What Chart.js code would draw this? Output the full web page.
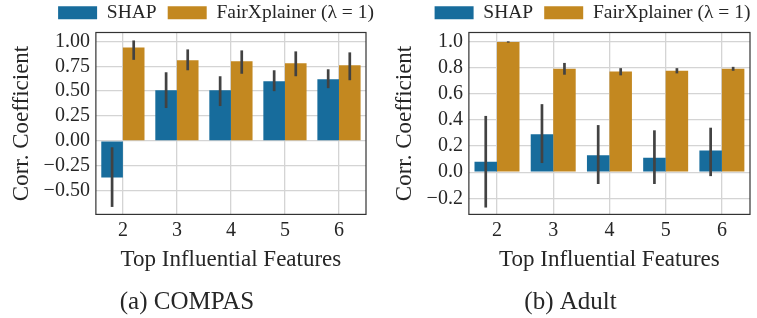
<!DOCTYPE html>
<html>
<head>
<meta charset="utf-8">
<script src="https://cdn.jsdelivr.net/npm/chart.js@4"></script>
<style>
  body { margin: 0; background: #fff; }
  .panel { position: absolute; top: 0; height: 318px; }
  #leftPanel { left: 0; width: 379px; }
  #rightPanel { left: 379px; width: 378px; }
</style>
</head>
<body>
<div class="panel" id="leftPanel"><canvas id="compasChart"></canvas></div>
<div class="panel" id="rightPanel"><canvas id="adultChart"></canvas></div>
<script>
  // Number of top influential features (x categories)
  const categories = ['2', '3', '4', '5', '6'];

  // COMPAS: mean correlation and error bar ends
  const compasShap = [-0.37, 0.51, 0.51, 0.60, 0.62];
  const compasShapLow = [-0.665, 0.33, 0.35, 0.50, 0.53];
  const compasShapHigh = [-0.065, 0.69, 0.65, 0.71, 0.72];
  const compasFair = [0.94, 0.81, 0.80, 0.78, 0.76];
  const compasFairLow = [0.815, 0.71, 0.675, 0.65, 0.61];
  const compasFairHigh = [1.01, 0.92, 0.91, 0.90, 0.89];

  // Adult: mean correlation and error bar ends
  const adultShap = [0.08, 0.29, 0.13, 0.11, 0.165];
  const adultShapLow = [-0.27, 0.07, -0.09, -0.09, -0.03];
  const adultShapHigh = [0.43, 0.52, 0.36, 0.32, 0.34];
  const adultFair = [0.995, 0.79, 0.77, 0.775, 0.79];
  const adultFairLow = [0.99, 0.745, 0.74, 0.755, 0.775];
  const adultFairHigh = [1.0, 0.835, 0.795, 0.795, 0.805];

  // Y tick labels
  const compasTicks = [-0.5, -0.25, 0, 0.25, 0.5, 0.75, 1.0];
  const adultTicks = [-0.2, 0, 0.2, 0.4, 0.6, 0.8, 1.0];

  const shapColor = '#176c9c';
  const fairColor = '#c38820';
  const textColor = '#262626';
  const fontFamily = '"Liberation Serif", "DejaVu Serif", serif';

  // Draw the error bars from each dataset's low/high arrays
  const errorBarPlugin = {
    id: 'errorBars',
    afterDatasetsDraw(chart) {
      const ctx = chart.ctx;
      const yScale = chart.scales.y;
      ctx.save();
      ctx.strokeStyle = '#424242';
      ctx.lineWidth = 2.7;
      chart.data.datasets.forEach((ds, i) => {
        const meta = chart.getDatasetMeta(i);
        meta.data.forEach((bar, j) => {
          ctx.beginPath();
          ctx.moveTo(bar.x, yScale.getPixelForValue(ds.errLow[j]));
          ctx.lineTo(bar.x, yScale.getPixelForValue(ds.errHigh[j]));
          ctx.stroke();
        });
      });
      ctx.restore();
    }
  };

  // Full box around the plot area, like matplotlib spines
  const framePlugin = {
    id: 'frame',
    afterDatasetsDraw(chart) {
      const { left, top, right, bottom } = chart.chartArea;
      const ctx = chart.ctx;
      ctx.save();
      ctx.strokeStyle = '#333333';
      ctx.lineWidth = 1.2;
      ctx.strokeRect(left, top, right - left, bottom - top);
      ctx.restore();
    }
  };

  // Move the legend sideways so it sits where the figure has it
  const legendShiftPlugin = {
    id: 'legendShift',
    afterLayout(chart, args, options) {
      chart.legend.left += options.x || 0;
      chart.legend.right += options.x || 0;
    }
  };

  function minusSign(text) {
    return text.replace('-', '\u2212');
  }

  function createChart(canvasId, cfg) {
    const ctx = document.getElementById(canvasId).getContext('2d');
    return new Chart(ctx, {
      type: 'bar',
      data: {
        labels: categories,
        datasets: [
          {
            label: 'SHAP',
            data: cfg.shap,
            errLow: cfg.shapLow,
            errHigh: cfg.shapHigh,
            backgroundColor: shapColor,
            categoryPercentage: 0.8,
            barPercentage: 1.0
          },
          {
            label: 'FairXplainer (\u03bb = 1)',
            data: cfg.fair,
            errLow: cfg.fairLow,
            errHigh: cfg.fairHigh,
            backgroundColor: fairColor,
            categoryPercentage: 0.8,
            barPercentage: 1.0
          }
        ]
      },
      options: {
        responsive: true,
        maintainAspectRatio: false,
        animation: false,
        layout: { padding: { left: cfg.padLeft, right: cfg.padRight, top: -8, bottom: 0 } },
        plugins: {
          legend: {
            position: 'top',
            align: 'center',
            labels: {
              boxWidth: 39,
              boxHeight: 13,
              padding: 11,
              color: textColor,
              font: { family: fontFamily, size: 19.5 }
            }
          },
          legendShift: { x: cfg.legendShift },
          title: {
            display: true,
            position: 'bottom',
            text: cfg.caption,
            color: textColor,
            font: { family: fontFamily, size: 25, weight: 'normal' },
            padding: { top: 13, bottom: 1 }
          },
          tooltip: { enabled: false }
        },
        scales: {
          x: {
            grid: { offset: false, color: '#d4d4d4', lineWidth: 1.3, drawTicks: false },
            border: { display: false },
            ticks: {
              color: textColor,
              padding: 4,
              font: { family: fontFamily, size: 20 }
            },
            title: {
              display: true,
              text: 'Top Influential Features',
              color: textColor,
              padding: { top: 0, bottom: 0 },
              font: { family: fontFamily, size: 23 }
            }
          },
          y: {
            min: cfg.yMin,
            max: cfg.yMax,
            afterBuildTicks: scale => {
              scale.ticks = cfg.ticks.map(v => ({ value: v }));
            },
            grid: { color: '#d4d4d4', lineWidth: 1.3, drawTicks: false },
            border: { display: false },
            ticks: {
              color: textColor,
              padding: 6,
              font: { family: fontFamily, size: 20 },
              callback: function(value) {
                return minusSign(value.toFixed(cfg.decimals));
              }
            },
            title: {
              display: true,
              text: 'Corr. Coefficient',
              color: textColor,
              padding: { top: 0, bottom: 2 },
              font: { family: fontFamily, size: 23 }
            }
          }
        }
      },
      plugins: [errorBarPlugin, framePlugin, legendShiftPlugin]
    });
  }

  document.addEventListener('DOMContentLoaded', () => {
    createChart('compasChart', {
      shap: compasShap, shapLow: compasShapLow, shapHigh: compasShapHigh,
      fair: compasFair, fairLow: compasFairLow, fairHigh: compasFairHigh,
      ticks: compasTicks, decimals: 2, yMin: -0.74, yMax: 1.09,
      caption: '(a) COMPAS', legendShift: 29, padLeft: 8, padRight: 13
    });
    createChart('adultChart', {
      shap: adultShap, shapLow: adultShapLow, shapHigh: adultShapHigh,
      fair: adultFair, fairLow: adultFairLow, fairHigh: adultFairHigh,
      ticks: adultTicks, decimals: 1, yMin: -0.3225, yMax: 1.0675,
      caption: '(b) Adult', legendShift: 22, padLeft: 12, padRight: 7
    });
  });
</script>
</body>
</html>
